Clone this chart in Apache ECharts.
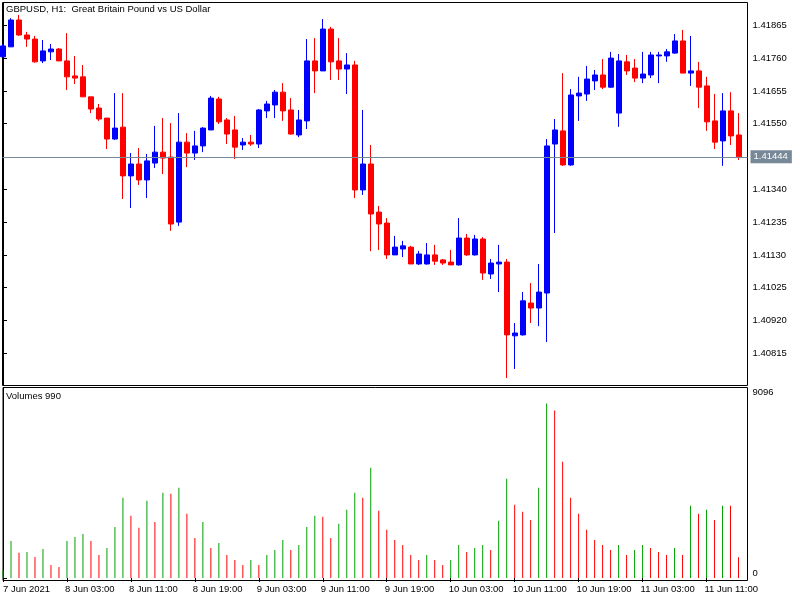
<!DOCTYPE html>
<html>
<head>
<meta charset="utf-8">
<script src="https://cdn.jsdelivr.net/npm/echarts@6/dist/echarts.min.js"></script>
<style>
html, body { margin: 0; padding: 0; background: #fff; }
#main { width: 800px; height: 600px; }
</style>
</head>
<body>
<div id="main"></div>
<script>
// GBPUSD H1, 7 Jun 19:00 .. 11 Jun 15:00 (93 bars)
var open = [1.41764,1.41796,1.41882,1.41834,1.41821,1.41751,1.41780,1.41789,1.41751,1.41703,
1.41700,1.41636,1.41600,1.41568,1.41501,1.41539,1.41383,1.41421,1.41370,1.41424,
1.41459,1.41443,1.41235,1.41491,1.41456,1.41479,1.41530,1.41629,1.41562,1.41530,
1.41482,1.41491,1.41485,1.41591,1.41610,1.41651,1.41594,1.41514,1.41559,1.41751,
1.41719,1.41853,1.41751,1.41725,1.41738,1.41338,1.41421,1.41267,1.41232,1.41130,
1.41149,1.41155,1.41101,1.41101,1.41130,1.41114,1.41107,1.41098,1.41184,1.41130,
1.41181,1.41069,1.41101,1.41107,1.40871,1.40874,1.40976,1.40960,1.41008,1.41485,
1.41527,1.41418,1.41639,1.41645,1.41687,1.41706,1.41667,1.41584,1.41748,1.41728,
1.41696,1.41706,1.41767,1.41767,1.41776,1.41815,1.41712,1.41719,1.41671,1.41559,
1.41495,1.41591,1.41514];

var high = [1.41805,1.41888,1.41898,1.41844,1.41831,1.41818,1.41805,1.41792,1.41840,1.41767,
1.41738,1.41636,1.41613,1.41568,1.41648,1.41648,1.41456,1.41472,1.41453,1.41543,
1.41568,1.41552,1.41584,1.41520,1.41527,1.41539,1.41639,1.41636,1.41568,1.41575,
1.41504,1.41514,1.41597,1.41623,1.41658,1.41680,1.41632,1.41594,1.41821,1.41824,
1.41885,1.41860,1.41824,1.41776,1.41751,1.41594,1.41482,1.41287,1.41248,1.41191,
1.41175,1.41159,1.41143,1.41168,1.41162,1.41117,1.41146,1.41248,1.41197,1.41194,
1.41187,1.41117,1.41162,1.41117,1.40912,1.41011,1.41040,1.41101,1.41501,1.41565,
1.41712,1.41661,1.41700,1.41735,1.41722,1.41757,1.41780,1.41773,1.41770,1.41757,
1.41780,1.41780,1.41780,1.41789,1.41837,1.41850,1.41831,1.41748,1.41700,1.41645,
1.41648,1.41651,1.41584];

var low = [1.41764,1.41796,1.41831,1.41796,1.41745,1.41744,1.41754,1.41751,1.41658,1.41677,
1.41636,1.41584,1.41559,1.41469,1.41498,1.41309,1.41280,1.41354,1.41312,1.41408,
1.41389,1.41207,1.41223,1.41411,1.41434,1.41459,1.41530,1.41549,1.41485,1.41437,
1.41466,1.41479,1.41472,1.41568,1.41568,1.41559,1.41515,1.41507,1.41533,1.41648,
1.41719,1.41690,1.41690,1.41645,1.41312,1.41322,1.41142,1.41146,1.41117,1.41130,
1.41123,1.41101,1.41098,1.41099,1.41098,1.41098,1.41098,1.41096,1.41127,1.41128,
1.41050,1.41053,1.41011,1.40736,1.40765,1.40872,1.40912,1.40902,1.40851,1.41200,
1.41415,1.41415,1.41559,1.41623,1.41658,1.41661,1.41665,1.41540,1.41706,1.41683,
1.41680,1.41696,1.41680,1.41748,1.41774,1.41712,1.41671,1.41600,1.41527,1.41469,
1.41415,1.41482,1.41434];

var close = [1.41799,1.41882,1.41834,1.41821,1.41748,1.41783,1.41789,1.41751,1.41700,1.41696,
1.41636,1.41597,1.41565,1.41501,1.41536,1.41383,1.41421,1.41370,1.41431,1.41459,
1.41440,1.41229,1.41491,1.41456,1.41479,1.41536,1.41632,1.41556,1.41517,1.41475,
1.41491,1.41485,1.41594,1.41613,1.41651,1.41591,1.41517,1.41562,1.41751,1.41719,
1.41853,1.41748,1.41725,1.41738,1.41338,1.41421,1.41261,1.41229,1.41130,1.41155,
1.41159,1.41101,1.41133,1.41130,1.41110,1.41104,1.41098,1.41184,1.41130,1.41181,
1.41072,1.41104,1.41107,1.40874,1.40880,1.40983,1.40960,1.41011,1.41479,1.41530,
1.41418,1.41642,1.41648,1.41693,1.41706,1.41667,1.41760,1.41751,1.41719,1.41696,
1.41709,1.41770,1.41770,1.41780,1.41815,1.41712,1.41719,1.41667,1.41556,1.41491,
1.41591,1.41511,1.41444];

// tick volumes
var volume = [380,1770,1200,1245,1005,1390,620,525,1770,1960,
2105,1770,1100,1435,2440,3830,2970,2395,3685,2680,
4070,4020,4310,3065,1915,2680,1435,1675,1100,860,
620,860,620,1100,1340,1820,1340,1580,2440,2970,
2920,1915,2585,3255,4070,3830,5265,3210,2300,1820,
1580,1100,860,1100,860,620,860,1580,1245,1435,
1580,1340,2730,4740,3495,3160,2775,4310,8330,7995,
5555,3830,3065,2300,1820,1580,1340,1580,1100,1340,
1580,1435,1245,1100,1435,1100,3445,3065,3255,2775,
3445,3445,990];

// time axis labels and the bar index they sit on
var timeLabels = ['7 Jun 2021','8 Jun 03:00','8 Jun 11:00','8 Jun 19:00','9 Jun 03:00','9 Jun 11:00',
  '9 Jun 19:00','10 Jun 03:00','10 Jun 11:00','10 Jun 19:00','11 Jun 03:00','11 Jun 11:00'];
var labelBars = [0, 8, 16, 24, 32, 40, 48, 56, 64, 72, 80, 88];

var priceTicks = [1.40815, 1.40920, 1.41025, 1.41130, 1.41235, 1.41340, 1.41550, 1.41655, 1.41760, 1.41865];
var lastPrice = 1.41444;
var volumeMax = 9096;

var FONT = 'Liberation Sans';
var chart = echarts.init(document.getElementById('main'), null, { renderer: 'canvas' });

var candles = open.map(function (o, i) {
    return [i, o, close[i], low[i], high[i]];
});
var volBars = volume.map(function (v, i) {
    // MT5 volumes: green if greater than previous bar, else red
    var up = i === 0 ? true : v > volume[i - 1];
    return { value: [i, v], itemStyle: { color: up ? '#00a000' : '#ff0000' } };
});
// labels sit a little left of their tick, except the first one
var labelPos = labelBars.map(function (b) { return b === 0 ? 0 : b - 0.25; });

var xMin = -0.0625, xMax = 93.0625;

var option = {
    animation: false,
    backgroundColor: '#ffffff',
    textStyle: { fontFamily: FONT },
    title: [
        {
            text: 'GBPUSD, H1:  Great Britain Pound vs US Dollar',
            left: 6, top: 4, padding: 0,
            textStyle: { fontFamily: FONT, fontSize: 9.5, fontWeight: 'normal', color: '#000' }
        },
        {
            text: 'Volumes 990',
            left: 6, top: 391, padding: 0,
            textStyle: { fontFamily: FONT, fontSize: 9.5, fontWeight: 'normal', color: '#000' }
        }
    ],
    grid: [
        { left: 2.5, right: 52.5, top: 2.5, bottom: 214.5, show: true, borderColor: '#000', borderWidth: 1, backgroundColor: 'transparent' },
        { left: 2.5, right: 52.5, top: 387.5, bottom: 19.5, show: true, borderColor: '#000', borderWidth: 1, backgroundColor: 'transparent' }
    ],
    xAxis: [
        { type: 'value', gridIndex: 0, min: xMin, max: xMax, show: false },
        {
            // shifted half a pixel so that the 1px volume lines are crisp
            type: 'value', gridIndex: 1, min: 0, max: xMax + 0.0625,
            axisLine: { show: false },
            splitLine: { show: false },
            axisTick: { show: true, length: 4, lineStyle: { color: '#000' }, customValues: labelBars },
            axisLabel: {
                customValues: labelPos,
                align: 'left',
                margin: 4,
                fontSize: 9.5,
                color: '#000',
                fontFamily: FONT,
                formatter: function (v) {
                    var idx = labelBars.indexOf(Math.round(v + 0.25) === 0 ? 0 : Math.round(v + 0.25));
                    if (idx < 0) idx = labelBars.indexOf(Math.round(v));
                    return idx >= 0 ? timeLabels[idx] : '';
                }
            }
        }
    ],
    yAxis: [
        {
            type: 'value', gridIndex: 0, position: 'right',
            min: 1.40712, max: 1.41938, scale: true,
            axisLine: { show: true, lineStyle: { color: '#000' } },
            splitLine: { show: false },
            axisTick: { show: true, length: 4, lineStyle: { color: '#000' }, customValues: priceTicks },
            axisLabel: {
                customValues: priceTicks,
                margin: 5, fontSize: 9.5, color: '#000', fontFamily: FONT,
                formatter: function (v) { return v.toFixed(5); }
            }
        },
        {
            type: 'value', gridIndex: 1, position: 'right',
            min: -119, max: volumeMax,
            axisLine: { show: true, lineStyle: { color: '#000' } },
            splitLine: { show: false },
            axisTick: { show: true, length: 4, lineStyle: { color: '#000' }, customValues: [0, volumeMax] },
            axisLabel: {
                customValues: [0, volumeMax],
                margin: 5, fontSize: 9.5, color: '#000', fontFamily: FONT,
                verticalAlignMinLabel: 'bottom',
                verticalAlignMaxLabel: 'top',
                formatter: function (v) { return String(Math.round(v)); }
            }
        }
    ],
    series: [
        {
            type: 'candlestick',
            xAxisIndex: 0, yAxisIndex: 0,
            data: candles,
            encode: { x: 0, y: [1, 2, 3, 4] },
            barWidth: 5,
            itemStyle: {
                color: '#0000ff', color0: '#ff0000',
                borderColor: '#0000ff', borderColor0: '#ff0000',
                borderWidth: 1
            },
            markLine: {
                silent: true,
                symbol: 'none',
                precision: 5,
                data: [{ yAxis: lastPrice }],
                lineStyle: { color: '#778899', width: 1, type: 'solid' },
                label: {
                    position: 'end',
                    distance: 3,
                    formatter: lastPrice.toFixed(5),
                    backgroundColor: '#778899',
                    color: '#ffffff',
                    fontSize: 9.5,
                    fontFamily: FONT,
                    padding: [2, 4, 1, 3]
                }
            }
        },
        {
            type: 'bar',
            xAxisIndex: 1, yAxisIndex: 1,
            data: volBars,
            barWidth: 1
        }
    ]
};

chart.setOption(option);
</script>
</body>
</html>
